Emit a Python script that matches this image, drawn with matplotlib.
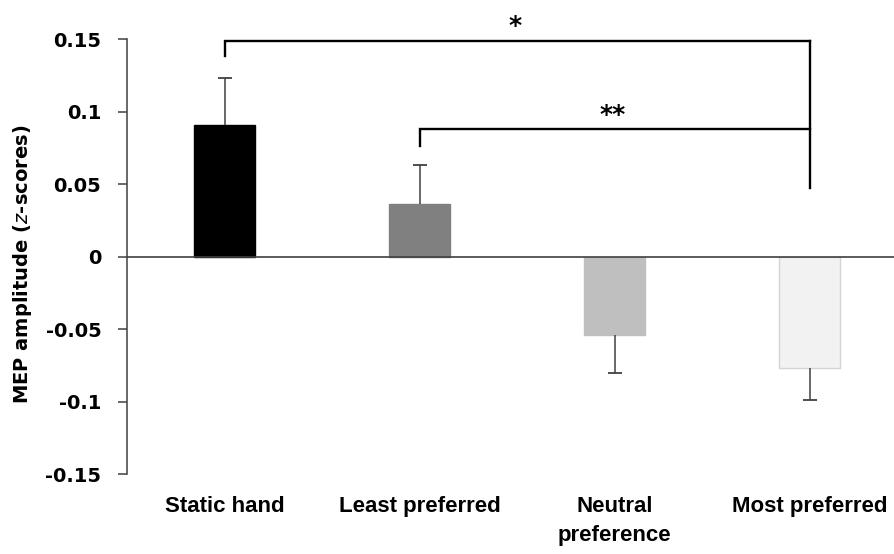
import matplotlib
matplotlib.use("Agg")
import matplotlib.pyplot as plt
import numpy as np

categories = ["Static hand", "Least preferred", "Neutral\npreference", "Most preferred"]
means = [0.091, 0.036, -0.054, -0.077]
errors = [0.032, 0.027, 0.026, 0.022]
yticks = [-0.15, -0.1, -0.05, 0, 0.05, 0.1, 0.15]
ytick_labels = ["-0.15", "-0.1", "-0.05", "0", "0.05", "0.1", "0.15"]
comparisons = [(0, 3, "*"), (1, 3, "**")]

bar_colors = ["#000000", "#808080", "#bfbfbf", "#f2f2f2"]
edge_colors = ["#000000", "#808080", "#bfbfbf", "#d4d4d4"]

fig = plt.figure(figsize=(8.94, 5.54), dpi=100)
ax = fig.add_axes([127/894, 80/554, 767/894, 435/554])

x = np.arange(len(categories))
ends = [m + e if m >= 0 else m - e for m, e in zip(means, errors)]

ax.bar(x, means, width=0.313, color=bar_colors, edgecolor=edge_colors, linewidth=1.0, zorder=2)
# one-sided error bars (away from zero)
ax.vlines(x, means, ends, color="#404040", linewidth=1.1, zorder=3)
ax.plot(x, ends, linestyle="none", marker="_", markersize=9.5, markeredgewidth=1.3,
        color="#404040", zorder=3)
ax.axhline(0, color="#404040", linewidth=1.2, zorder=4)

ax.set_xlim(-0.5, -0.5 + 767/195)
ax.set_ylim(-0.15, 0.15)

for s in ["top", "right", "bottom"]:
    ax.spines[s].set_visible(False)
ax.spines["left"].set_color("#404040")
ax.spines["left"].set_linewidth(1.1)

ax.set_yticks(yticks)
ax.set_yticklabels(ytick_labels, fontfamily="DejaVu Sans", fontweight="bold", fontsize=14)
ax.tick_params(axis="y", direction="out", length=6.5, width=1.1, color="#404040", pad=12)

ax.set_xticks(x)
ax.set_xticklabels(categories, fontfamily="Liberation Sans", fontweight="bold",
                   fontsize=16, linespacing=1.5)
ax.tick_params(axis="x", length=0, pad=16)

ax.set_ylabel(r"MEP amplitude ($\bf\it{z}$-scores)", fontfamily="DejaVu Sans",
              fontweight="bold", fontsize=14)
ax.yaxis.set_label_coords(-(127-34)/767, (554-264-80)/435)

# significance brackets
bracket_specs = [
    # (y_top, left_drop, right_drop, star_y)
    (0.1486, 0.1385, 0.0472, 0.159),
    (0.0877, 0.0764, None, 0.0975),
]
for (i, j, label), (ytop, ldrop, rdrop, sy) in zip(comparisons, bracket_specs):
    ax.plot([i, i, j], [ldrop, ytop, ytop], color="black", linewidth=1.7,
            solid_joinstyle="miter", clip_on=False, zorder=5)
    if rdrop is not None:
        ax.plot([j, j], [ytop, rdrop], color="black", linewidth=1.7, clip_on=False, zorder=5)
    ax.text((i + j) / 2 - 0.01, sy, label, ha="center", va="center",
            fontfamily="DejaVu Sans", fontweight="bold", fontsize=18, zorder=6)

fig.savefig("out.png", dpi=100)
